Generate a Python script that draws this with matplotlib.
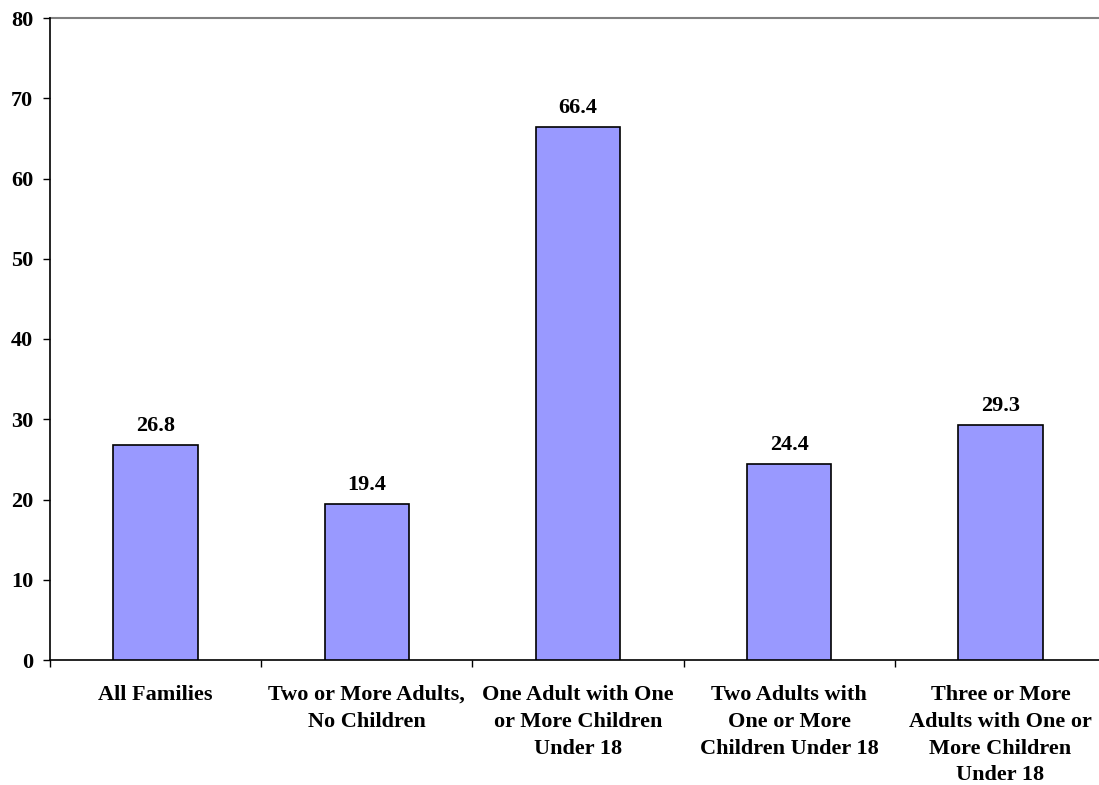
import matplotlib.pyplot as plt
import numpy as np

categories = ['All Families', 'Two or More Adults,\nNo Children',
              'One Adult with One\nor More Children\nUnder 18',
              'Two Adults with\nOne or More\nChildren Under 18',
              'Three or More\nAdults with One or\nMore Children\nUnder 18']
values = [26.8, 19.4, 66.4, 24.4, 29.3]
yticks = [0, 10, 20, 30, 40, 50, 60, 70, 80]

plt.rcParams['font.family'] = ['Liberation Serif', 'DejaVu Serif']
plt.rcParams['font.weight'] = 'bold'

fig = plt.figure(figsize=(10.99, 7.85), dpi=100)
ax = fig.add_axes([50 / 1099, 1 - 660 / 785, 1056 / 1099, 642 / 785])

x = np.arange(len(categories))
ax.bar(x, values, width=0.4, color='#9999FF', edgecolor='black', linewidth=1.2, zorder=3)
for xi, v in zip(x, values):
    ax.text(xi, v + 1.75, '%.1f' % v, ha='center', va='baseline', fontsize=16, fontweight='bold')

ax.set_xlim(-0.5, len(categories) - 0.5)
ax.set_ylim(0, 80)
ax.set_yticks(yticks)
ax.set_yticklabels([str(t) for t in yticks], fontsize=16, fontweight='bold')
ax.axhline(80, color='#808080', linewidth=1.5, zorder=1, clip_on=False)

ax.set_xticks(x)
ax.set_xticklabels(categories, fontsize=16, fontweight='bold', linespacing=1.45)
ax.tick_params(axis='x', length=0, pad=18)
ax.set_xticks(np.arange(len(categories) + 1) - 0.5, minor=True)
ax.tick_params(axis='x', which='minor', length=5, width=1, direction='out')
ax.tick_params(axis='y', length=5, width=1, direction='out', pad=7)

for s in ['top', 'right']:
    ax.spines[s].set_visible(False)
ax.spines['left'].set_linewidth(1.2)
ax.spines['bottom'].set_linewidth(1.2)

fig.savefig('out.png', dpi=100)
